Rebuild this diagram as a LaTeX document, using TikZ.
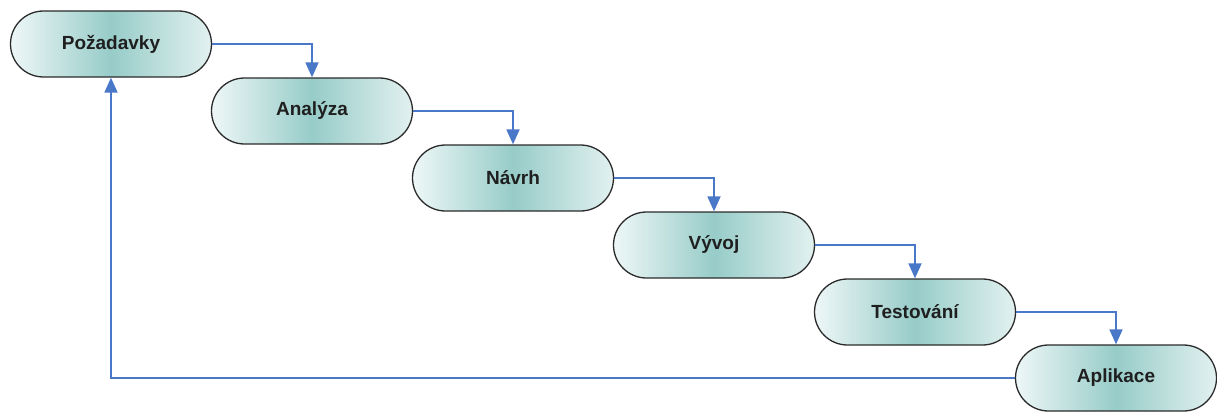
\documentclass[tikz,border=0pt]{standalone}
\usepackage{fontspec}
\setmainfont{Liberation Sans}
\usetikzlibrary{shapes.misc,arrows.meta}
\definecolor{edgecol}{HTML}{2B2B2B}
\definecolor{lightc}{HTML}{EEF7F7}
\definecolor{rightc}{HTML}{E2F1F0}
\definecolor{tealc}{HTML}{97CCC8}
\definecolor{linec}{HTML}{4A78C8}
\tikzset{
  phase/.style={rounded rectangle, draw=edgecol, line width=1.3pt,
    minimum width=201pt, minimum height=66pt, inner sep=0pt,
    left color=lightc, right color=rightc, middle color=tealc,
    font=\fontsize{19}{21}\selectfont\bfseries, text=black!88},
  flow/.style={draw=linec, line width=1.8pt, -{Triangle[width=13pt,length=15pt]}}
}
\begin{document}
\begin{tikzpicture}[x=1pt,y=-1pt]
\useasboundingbox (0,0) rectangle (1217,412);
\node[phase] (P) at (111,44) {Požadavky};
\node[phase] (A) at (312,111) {Analýza};
\node[phase] (N) at (513,178) {Návrh};
\node[phase] (V) at (714,245) {Vývoj};
\node[phase] (T) at (915,312) {Testování};
\node[phase] (Ap) at (1116,378) {Aplikace};
\draw[flow] (P.east) -| (A.north);
\draw[flow] (A.east) -| (N.north);
\draw[flow] (N.east) -| (V.north);
\draw[flow] (V.east) -| (T.north);
\draw[flow] (T.east) -| (Ap.north);
\draw[flow] (Ap.west) -| (P.south);
\end{tikzpicture}
\end{document}
